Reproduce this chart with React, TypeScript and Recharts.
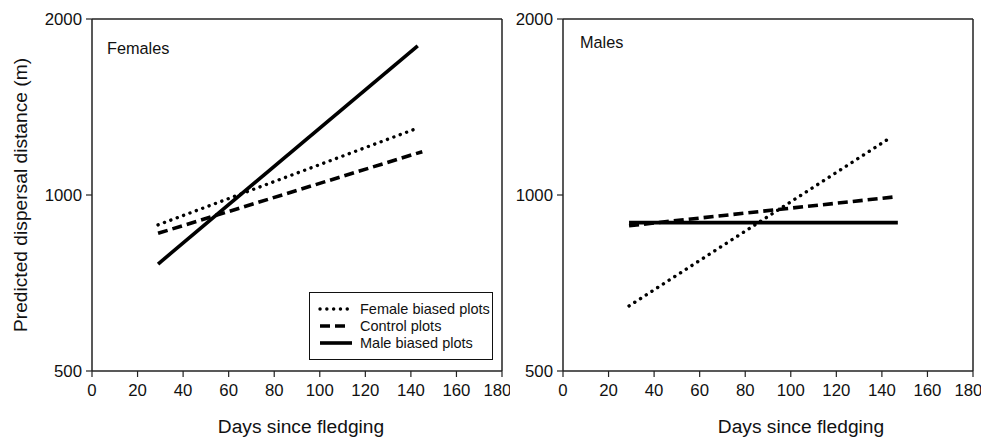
import React from 'react';
import { LineChart, Line, XAxis, YAxis, ReferenceLine, Label, Legend } from 'recharts';

// Days since fledging (x) and predicted dispersal distance in metres (y)
const femalesFemaleBiased = [
  { day: 29, distance: 889 },
  { day: 142, distance: 1297 },
];
const femalesControl = [
  { day: 29, distance: 860 },
  { day: 145, distance: 1186 },
];
const femalesMaleBiased = [
  { day: 29, distance: 762 },
  { day: 143, distance: 1800 },
];

const malesFemaleBiased = [
  { day: 29, distance: 646 },
  { day: 143, distance: 1248 },
];
const malesControl = [
  { day: 29, distance: 886 },
  { day: 146, distance: 993 },
];
const malesMaleBiased = [
  { day: 29, distance: 897 },
  { day: 147, distance: 897 },
];

const xTicks = [0, 20, 40, 60, 80, 100, 120, 140, 160, 180];
const yTicks = [500, 1000, 2000];
const seriesNames = ['Female biased plots', 'Control plots', 'Male biased plots'];

const FONT = '"Liberation Sans", Arial, Helvetica, sans-serif';
const INK = '#111';

const styles = {
  female: { strokeDasharray: '0.1 6.7', strokeLinecap: 'round' as const, strokeWidth: 3.4 },
  control: { strokeDasharray: '10 5', strokeLinecap: 'butt' as const, strokeWidth: 3.6 },
  male: { strokeDasharray: undefined, strokeLinecap: 'butt' as const, strokeWidth: 3.6 },
};

const LegendBox = () => {
  const rows = [
    { name: seriesNames[0], s: styles.female, x2: 31 },
    { name: seriesNames[1], s: styles.control, x2: 28 },
    { name: seriesNames[2], s: styles.male, x2: 34 },
  ];
  return (
    <div
      style={{
        border: '1.2px solid #111',
        background: '#fff',
        width: 184,
        height: 68,
        boxSizing: 'border-box',
        paddingTop: 7,
        fontFamily: FONT,
        fontSize: 14.5,
        color: INK,
      }}
    >
      {rows.map((r) => (
        <div key={r.name} style={{ display: 'flex', alignItems: 'center', height: 17.3 }}>
          <svg width={48} height={10} style={{ marginLeft: 8 }}>
            <line
              x1={2}
              y1={5}
              x2={r.x2}
              y2={5}
              stroke="#000"
              strokeWidth={r.s.strokeWidth}
              strokeDasharray={r.s.strokeDasharray}
              strokeLinecap={r.s.strokeLinecap}
            />
          </svg>
          <span style={{ marginLeft: -6, whiteSpace: 'nowrap' }}>{r.name}</span>
        </div>
      ))}
    </div>
  );
};

type PanelProps = {
  left: number;
  series: { data: { day: number; distance: number }[]; style: any; name: string }[];
  showYTitle: boolean;
  showLegend: boolean;
  xTitleDx: number;
};

const Panel = ({ left, series, showYTitle, showLegend, xTitleDx }: PanelProps) => (
  <div style={{ position: 'absolute', left, top: 0 }}>
    <LineChart width={510} height={438} margin={{ top: 19, right: 8, left: 0, bottom: 0 }}>
      <XAxis
        dataKey="day"
        type="number"
        domain={[0, 180]}
        ticks={xTicks}
        allowDuplicatedCategory={false}
        height={67}
        tickSize={6}
        tickMargin={7}
        axisLine={{ stroke: '#222', strokeWidth: 1.5 }}
        tickLine={{ stroke: '#222', strokeWidth: 1.2 }}
        tick={{ fontSize: 16.8, fill: INK, fontFamily: FONT }}
      >
        <Label
          value="Days since fledging"
          position="insideBottom"
          offset={5}
          dx={xTitleDx}
          style={{ fontSize: 19.2, fill: INK, fontFamily: FONT }}
        />
      </XAxis>
      <YAxis
        dataKey="distance"
        type="number"
        scale="log"
        domain={[500, 2000]}
        ticks={yTicks}
        allowDataOverflow
        width={92}
        tickSize={6}
        tickMargin={4}
        axisLine={{ stroke: '#222', strokeWidth: 1.5 }}
        tickLine={{ stroke: '#222', strokeWidth: 1.2 }}
        tick={{ fontSize: 16.8, fill: INK, fontFamily: FONT }}
      >
        {showYTitle ? (
          <Label
            value="Predicted dispersal distance (m)"
            angle={-90}
            position="center"
            dx={-26}
            style={{ fontSize: 19.2, fill: INK, fontFamily: FONT, textAnchor: 'middle' }}
          />
        ) : null}
      </YAxis>
      <ReferenceLine y={2000} stroke="#222" strokeWidth={1.5} />
      <ReferenceLine x={180} stroke="#222" strokeWidth={1.5} />
      {series.map((s) => (
        <Line
          key={s.name}
          data={s.data}
          dataKey="distance"
          name={s.name}
          type="linear"
          stroke="#000"
          strokeWidth={s.style.strokeWidth}
          strokeDasharray={s.style.strokeDasharray}
          strokeLinecap={s.style.strokeLinecap}
          dot={false}
          activeDot={false}
          isAnimationActive={false}
        />
      ))}
      {showLegend ? (
        <Legend
          layout="vertical"
          align="center"
          verticalAlign="middle"
          content={() => <LegendBox />}
          wrapperStyle={{ position: 'absolute', left: 309, top: 292, width: 184, height: 68 }}
        />
      ) : null}
    </LineChart>
  </div>
);

export default function App() {
  return (
    <div
      style={{
        position: 'absolute',
        left: 0,
        top: 0,
        width: 989,
        height: 438,
        background: '#fff',
        fontFamily: FONT,
      }}
    >
      <Panel
        left={0}
        showYTitle
        showLegend
        xTitleDx={4}
        series={[
          { data: femalesFemaleBiased, style: styles.female, name: seriesNames[0] },
          { data: femalesControl, style: styles.control, name: seriesNames[1] },
          { data: femalesMaleBiased, style: styles.male, name: seriesNames[2] },
        ]}
      />
      <Panel
        left={471}
        showYTitle={false}
        showLegend={false}
        xTitleDx={33}
        series={[
          { data: malesFemaleBiased, style: styles.female, name: seriesNames[0] },
          { data: malesControl, style: styles.control, name: seriesNames[1] },
          { data: malesMaleBiased, style: styles.male, name: seriesNames[2] },
        ]}
      />
      <div style={{ position: 'absolute', left: 107, top: 40, fontSize: 16.3, lineHeight: 1, color: INK }}>
        Females
      </div>
      <div style={{ position: 'absolute', left: 580, top: 34, fontSize: 16.3, lineHeight: 1, color: INK }}>
        Males
      </div>
    </div>
  );
}
